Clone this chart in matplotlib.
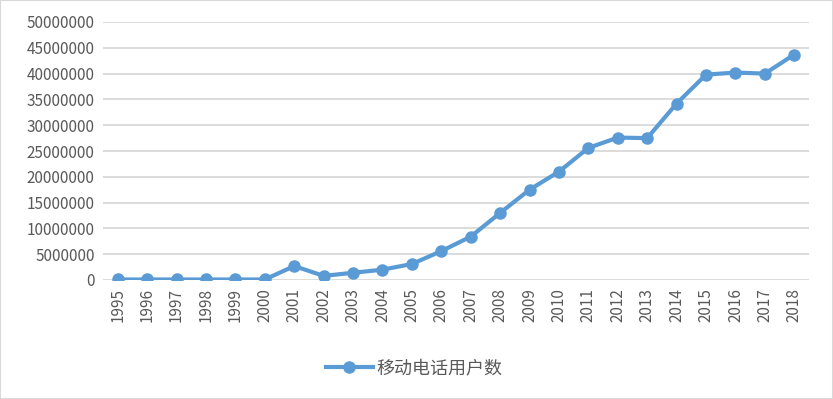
import matplotlib
matplotlib.use('Agg')
import matplotlib.pyplot as plt
from matplotlib.patches import Rectangle

plt.rcParams['font.family'] = ['Noto Sans CJK SC', 'DejaVu Sans']

years = [str(y) for y in range(1995, 2019)]
users = [100000, 100000, 100000, 100000, 100000, 100000, 2700000, 800000,
         1400000, 2000000, 3100000, 5600000, 8400000, 13000000, 17500000,
         21000000, 25600000, 27600000, 27500000, 34200000, 39800000,
         40200000, 40000000, 43700000]
yticks = list(range(0, 50000001, 5000000))

fig = plt.figure(figsize=(8.33, 3.99), dpi=100)
ax = fig.add_axes([103/833, 1 - 280/399, 706/833, 258/399])

x = list(range(len(years)))
ax.plot(x, users, color='#5B9BD5', lw=3, marker='o', ms=8,
        label='移动电话用户数', zorder=3)

ax.set_xlim(-0.5, len(years) - 0.5)
ax.set_ylim(0, 50000000)
ax.set_yticks(yticks)
ax.set_yticklabels([str(v) for v in yticks], fontsize=11, color='#595959')
ax.set_xticks(x)
ax.set_xticklabels(years, rotation=90, fontsize=11, color='#595959')
ax.tick_params(length=0, pad=6)
ax.grid(axis='y', color='#D9D9D9', lw=1.3, zorder=0)
for s in ax.spines.values():
    s.set_visible(False)

fig.legend(loc='center', bbox_to_anchor=(414/833, 1 - 368/399), frameon=False,
           fontsize=13, labelcolor='#595959', handlelength=2.6,
           handletextpad=0.2)

fig.patches.append(Rectangle((0, 0), 1, 1, transform=fig.transFigure,
                             fill=False, edgecolor='#D9D9D9', lw=1.5))

fig.savefig('out.png', dpi=100)
